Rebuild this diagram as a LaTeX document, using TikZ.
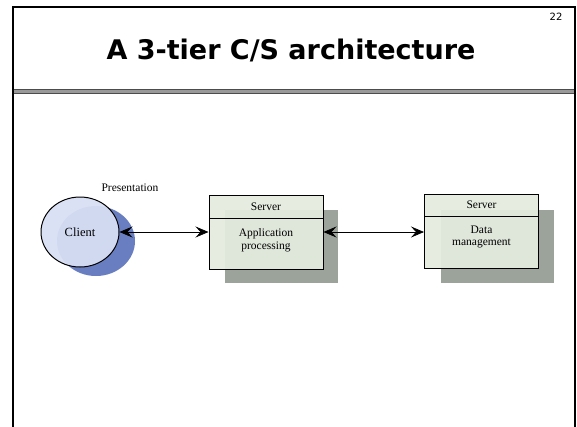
\documentclass[tikz,border=0pt]{standalone}
\usepackage{fontspec}
\setmainfont{Liberation Serif}
\newfontfamily\titlefont{DejaVu Sans}
\usetikzlibrary{arrows.meta,shapes.geometric}
\definecolor{shadowblue}{RGB}{104,126,192}
\definecolor{clientfill}{RGB}{216,223,243}
\definecolor{boxfill}{RGB}{228,235,222}
\definecolor{boxshadow}{RGB}{155,163,155}
\tikzset{
  frame/.style={line width=2pt, draw=black},
  sepline/.style={line width=3.2pt, draw=gray!80},
  srvbox/.style={draw=black, line width=1pt, fill=boxfill, fill opacity=0.94, minimum width=114pt, minimum height=74pt, inner sep=0pt},
  srvshadow/.style={fill=boxshadow, draw=none, minimum width=113pt, minimum height=73pt, inner sep=0pt},
  clientnode/.style={ellipse, draw=black, line width=1pt, fill=clientfill, fill opacity=0.94, text opacity=1, minimum width=78pt, minimum height=70pt, inner sep=0pt, font=\fontsize{12.5}{13}\selectfont},
  link/.style={line width=0.7pt, {Stealth[length=13pt,width=11pt,inset=5pt]}-{Stealth[length=13pt,width=11pt,inset=5pt]}},
  lbl/.style={font=\fontsize{11.5}{12.5}\selectfont, align=center, inner sep=0pt}
}
\begin{document}
\begin{tikzpicture}[x=1pt,y=-1pt]
\useasboundingbox (0,0) rectangle (577,426);
% frame
\draw[frame] (12.5,440) -- (12.5,7) -- (575,7) -- (575,440);
\draw[sepline] (13.5,91.3) -- (574,91.3);
\draw[black!70, line width=0.6pt] (13.5,89.6) -- (574,89.6);
\draw[black!70, line width=0.6pt] (13.5,93) -- (574,93);
\node[font=\titlefont\bfseries\fontsize{27}{30}\selectfont] (title) at (291,50) {A 3-tier C/S architecture};
\node[font=\titlefont\fontsize{10}{11}\selectfont] (num) at (556,17) {22};
% client
\fill[shadowblue] (96,241) ellipse [x radius=39, y radius=35];
\node[clientnode] (client) at (80,232) {Client};
\node[lbl] (pres) at (130,188) {Presentation};
% server 1
\node[srvshadow] (sh1) at (281.5,246.5) {};
\node[srvbox] (app) at (266,232) {};
\draw[line width=0.8pt] (209,218) -- (323,218);
\node[lbl] (srv1) at (266,206.5) {Server};
\node[lbl] (appl) at (266,240) {Application\\processing};
% server 2
\node[srvshadow] (sh2) at (497.5,246.5) {};
\node[srvbox] (data) at (481.5,231) {};
\draw[line width=0.8pt] (425,216) -- (538,216);
\node[lbl] (srv2) at (481.5,205) {Server};
\node[lbl] (datal) at (481.5,237) {Data\\management};
% links
\draw[link] (client.east) -- (app.west);
\draw[link] (app.east) -- (app.east -| data.west);
\end{tikzpicture}
\end{document}
